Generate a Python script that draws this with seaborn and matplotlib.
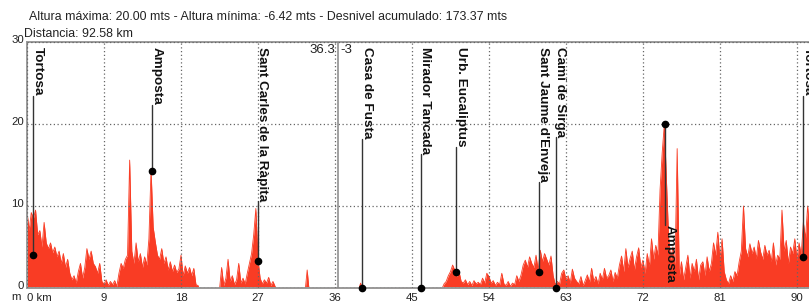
import numpy as np
import pandas as pd
import seaborn as sns
import matplotlib.pyplot as plt
from matplotlib.transforms import offset_copy, ScaledTranslation

# elevation profile, one value every 0.25 km (m)
step_km = 0.25
elevation = [
    9.3, 7.0, 9.2, 8.5,   9.5, 6.5, 7.0, 5.0,   8.0, 5.5, 4.8, 5.5,   4.3, 5.0, 3.8, 4.5,
    3.0, 4.2, 2.5, 3.5,   1.8, 1.0, 1.5, 0.6,   2.0, 3.0, 1.2, 2.5,   4.8, 3.5, 4.5, 3.0,
    2.6, 1.8, 3.0, 0.8,   0.5, 1.0, 0.3, 0.8,   0.4, 0.9, 0.2, 1.8,   3.0, 2.4, 3.5, 4.0,
    15.6, 4.5, 3.0, 5.5,  3.2, 4.2, 2.5, 3.8,   2.8, 6.0, 14.5, 7.4,  5.6, 4.0, 3.5, 4.8,
    3.0, 3.8, 2.2, 3.2,   2.0, 2.8, 1.9, 2.3,   4.0, 1.5, 2.7, 1.8,   2.5, 1.5, 2.4, 0.4,
    0.3, -0.8, -1.5, -1.2, -2.0, -1.6, -1.0, -1.4, -0.8, -0.5, -0.2, 2.5, 0.3, 1.2, 3.5, 0.8,
    1.5, 0.4, 1.0, 3.0,   0.6, 1.2, 0.5, 1.8,   3.0, 4.2, 6.5, 9.7,   3.5, 1.2, 0.5, 1.0,
    0.6, 1.3, 0.3, 0.8,   0.2, -0.5, -1.2, -2.0, -2.4, -2.8, -2.2, -3.0, -3.3, -2.6, -2.0, -1.5,
    -1.2, -0.8, -0.5, 2.2, -0.6, -1.5, -2.2, -2.8, -3.1, -3.6, -3.2, -2.7, -2.9, -3.4, -3.8, -3.5,
    -3.1, -3.0, -2.7, -2.4, -2.0, -1.7, -1.4, -1.0, -0.8, -0.6, -0.4, -0.2, 0.6, -0.3, -0.8, -1.5,
    -2.2, -2.9, -3.6, -4.3, -4.9, -5.4, -5.8, -6.1, -6.3, -6.42, -6.2, -5.9, -5.5, -5.1, -4.6, -4.2,
    -3.8, -3.3, -2.9, -2.5, -2.1, -1.8, -1.5, -1.3, -1.1, -1.4, -1.7, -1.5, -1.2, -0.9, -0.7, -0.5,
    -0.4, -0.3, -0.1, 0.5, 0.8, 1.5, 2.0, 2.8,   2.2, 1.4, 2.0, 0.8,   0.6, 1.0, 0.4, 0.8,
    0.3, 0.9, 0.5, 0.7,   0.4, 1.2, 0.6, 1.8,   1.4, 0.6, 0.9, 0.3,   0.7, 0.4, 1.8, 0.5,
    0.3, 0.8, 0.2, 0.6,   0.4, 1.5, 0.8, 1.6,   2.8, 3.4, 2.5, 3.8,   3.0, 2.5, 4.0, 2.2,
    4.6, 3.2, 4.2, 3.5,   2.8, 3.9, 1.5, 0.4,   0.8, 0.5, 1.8, 2.2,   1.0, 1.5, 0.6, 2.3,
    1.2, 0.8, 0.5, 1.4,   0.3, 0.9, 1.6, 0.7,   2.4, 0.8, 1.4, 0.5,   1.8, 1.0, 2.4, 1.2,
    1.5, 2.2, 0.8, 1.9,   1.2, 2.8, 3.9, 2.0,   4.8, 2.5, 3.6, 4.5,   2.2, 3.8, 4.9, 2.5,
    3.4, 1.8, 4.2, 2.6,   6.0, 3.5, 5.2, 4.0,   12.0, 16.5, 20.0, 13.0, 6.2, 3.5, 5.0, 2.8,
    17.0, 1.5, 3.2, 1.0,  2.5, 4.0, 1.2, 3.0,   2.0, 3.5, 1.0, 2.8,   3.2, 1.5, 3.8, 2.0,
    3.0, 5.5, 4.0, 6.8,   3.5, 6.0, 2.0, 1.0,   0.5, 1.5, 0.8, 2.0,   1.5, 3.2, 4.5, 10.0,
    4.8, 3.8, 5.4, 4.2,   5.0, 3.6, 5.8, 4.4,   3.5, 5.2, 4.0, 4.6,   3.2, 5.5, 2.8, 4.0,
    3.5, 9.5, 4.5, 5.8,   3.0, 5.0, 4.2, 6.0,   3.5, 5.5, 4.0, 8.0,   6.0, 10.0, 7.0, 8.5,
    6.0, 7.5, 5.0,
]
distance = np.arange(len(elevation)) * step_km

waypoint_names = ["Tortosa", "Amposta", "Sant Carles de la Ràpita", "Casa de Fusta",
                  "Mirador Tancada", "Urb. Eucaliptus", "Sant Jaume d'Enveja",
                  "Camí de Sirga", "Amposta", "Tortosa"]
waypoint_km = [0.7, 14.6, 27.0, 39.2, 46.0, 50.2, 59.8, 61.8, 74.6, 90.7]
waypoint_elev = [4.0, 14.3, 3.3, 0.0, 0.0, 1.9, 2.0, 0.0, 20.0, 3.8]
waypoint_side = ["top", "top", "top", "top", "top", "top", "top", "top", "bottom", "top"]

x_ticks = [0, 9, 18, 27, 36, 45, 54, 63, 72, 81, 90]
x_tick_labels = ["0 km", "9", "18", "27", "36", "45", "54", "63", "72", "81", "90"]
y_ticks = [0, 10, 20, 30]

cursor_km = 36.3
cursor_elev = -3
total_km = 92.58

fill_color = "#f93c24"

sns.set_theme(style="white")
plt.rcParams["font.family"] = ["Liberation Sans", "DejaVu Sans"]

W, H = 809, 305
fig = plt.figure(figsize=(W / 100, H / 100), dpi=100)
ax = fig.add_axes([27 / W, 17 / H, 792 / W, 246 / H])

df = pd.DataFrame({"km": distance, "alt": elevation})
ax.fill_between(df["km"], 0, df["alt"], color=fill_color, lw=0, zorder=1)
sns.lineplot(data=df, x="km", y="alt", ax=ax, color=fill_color, lw=0.6, zorder=1.2)

ax.set_xlim(0, total_km)
ax.set_ylim(0, 30)
ax.set_xticks(x_ticks)
ax.set_xticklabels(x_tick_labels)
ax.set_yticks(y_ticks)
ax.set_xlabel("")
ax.set_ylabel("")
ax.tick_params(length=0, labelsize=8.2, colors="#222222")
ax.tick_params(axis="x", pad=3.5)
ax.tick_params(axis="y", pad=2)
ax.get_xticklabels()[0].set_ha("left")
# y labels sit a little above their lines
shift_up = ScaledTranslation(0, 3 / 100, fig.dpi_scale_trans)
for lab in ax.get_yticklabels():
    lab.set_transform(lab.get_transform() + shift_up)
ax.set_axisbelow(False)
ax.grid(True, color="#666666", lw=0.9, ls=(0, (1, 2)))
for s in ax.spines.values():
    s.set_color("#9a9a9a")
    s.set_linewidth(1.4)

# cursor
ax.axvline(cursor_km, color="#888888", lw=1.1, zorder=2.6)
ax.text(cursor_km, 30, f"{cursor_km}", ha="right", va="top", fontsize=9.5, color="#222222",
        transform=offset_copy(ax.transData, fig, x=-2, y=-2, units="dots"))
ax.text(cursor_km, 30, f"{cursor_elev}", ha="left", va="top", fontsize=9.5, color="#222222",
        transform=offset_copy(ax.transData, fig, x=3, y=-2, units="dots"))

# waypoints
texts = []
for name, km, el, side in zip(waypoint_names, waypoint_km, waypoint_elev, waypoint_side):
    if side == "top":
        t = ax.text(km, 30, name, rotation=-90, ha="left", va="top", fontsize=9.7,
                    fontweight="bold", color="#111111", zorder=4,
                    transform=offset_copy(ax.transData, fig, x=-1.5, y=-5, units="dots"))
    else:
        t = ax.text(km, 0, name, rotation=-90, ha="left", va="bottom", fontsize=9.7,
                    fontweight="bold", color="#111111", zorder=4,
                    transform=offset_copy(ax.transData, fig, x=-1.5, y=5, units="dots"))
    texts.append((t, km, el, side))

fig.canvas.draw()
renderer = fig.canvas.get_renderer()
inv = ax.transData.inverted()
for t, km, el, side in texts:
    bb = t.get_window_extent(renderer)
    if side == "top":
        y_end = inv.transform((0, bb.y0))[1]
    else:
        y_end = inv.transform((0, bb.y1))[1]
    ax.plot([km, km], [el, y_end], color="#333333", lw=1.0, zorder=3)
    ax.plot([km], [el], "o", color="black", ms=4.5, zorder=5, clip_on=False)

# header
fig.text(29 / W, 1 - 17 / H,
         "Altura máxima: 20.00 mts - Altura mínima: -6.42 mts - Desnivel acumulado: 173.37 mts",
         ha="left", va="center", fontsize=8.9, color="#222222")
fig.text(23.5 / W, 1 - 34 / H, "Distancia: 92.58 km", ha="left", va="center",
         fontsize=8.9, color="#222222")
fig.text(21 / W, 1 - 297.5 / H, "m", ha="right", va="center", fontsize=8.2, color="#222222")

fig.savefig("out.png", dpi=100)
